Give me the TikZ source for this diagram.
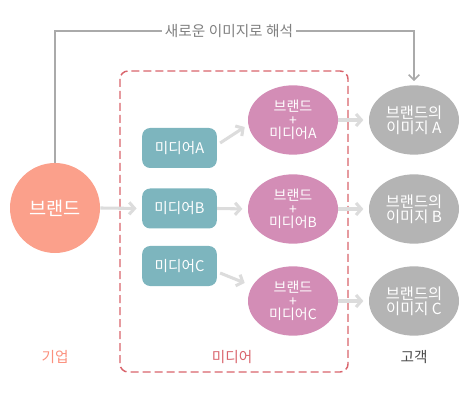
\documentclass[tikz,border=0pt]{standalone}
\usepackage{fontspec}
\setmainfont{Noto Sans CJK KR}
\usepackage{tikz}
\usetikzlibrary{calc, positioning, arrows.meta, shapes.geometric}
\definecolor{brandC}{RGB}{251, 160, 139}
\definecolor{mediaC}{RGB}{125, 181, 190}
\definecolor{mixC}{RGB}{211, 141, 182}
\definecolor{imgC}{RGB}{180, 180, 180}
\definecolor{flowC}{RGB}{220, 220, 220}
\definecolor{frameC}{RGB}{217, 100, 108}
\definecolor{topC}{RGB}{170, 170, 170}

\begin{document}
\begin{tikzpicture}[x=0.75pt, y=-0.75pt, font=\fontsize{10.5}{10}\selectfont,
  flow/.style={draw=flowC, line width=2.3pt, -{Straight Barb[length=4pt, width=9pt]}},
  mediabox/.style={fill=mediaC, text=white, rounded corners=6pt, minimum width=56pt, minimum height=30pt, inner sep=0pt, font=\fontsize{11}{12}\selectfont},
  mixnode/.style={ellipse, fill=mixC, text=white, minimum width=67.5pt, minimum height=52pt, inner sep=0pt, align=center},
  imgnode/.style={ellipse, fill=imgC, text=white, minimum width=67.5pt, minimum height=52pt, inner sep=0pt, align=center, font=\fontsize{11.5}{11}\selectfont},
  grouplabel/.style={font=\fontsize{11}{12}\selectfont}]
  \useasboundingbox (0,0) rectangle (470,409);

  % Media frame
  \draw[frameC, line width=1.1pt, dash pattern=on 6pt off 3pt, rounded corners=6pt] (120,71) rectangle (348,372);

  % Brand
  \node[circle, fill=brandC, text=white, minimum size=67.5pt, inner sep=0pt, font=\fontsize{14}{16}\selectfont] (brand) at (55,208) {브랜드};

  % Media, brand + media, image
  \foreach \m/\my/\ny in {A/148/120, B/208.5/209, C/266/301} {
    \node[mediabox] (media\m) at (179.5,\my) {미디어\m};
    \node[mixnode] (mix\m) at (293,\ny) {브랜드\\+\\미디어\m};
    \node[imgnode] (img\m) at (414,\ny) {브랜드의\\이미지 \m};
    \draw[flow, shorten >=4pt] (mix\m.east) -- (img\m.west);
  }

  \draw[flow, shorten >=4pt] (brand.east) -- (mediaB.west);
  \draw[flow] ($(mediaA.east)+(3,-5)$) -- ($(mixA.west)+(-3,7)$);
  \draw[flow, shorten >=4pt] (mediaB.east) -- (mixB.west);
  \draw[flow] ($(mediaC.east)+(3,7)$) -- ($(mixC.west)+(-3,-18)$);

  % Reinterpretation line
  \coordinate (topL) at (55,31);
  \coordinate (topR) at (414,31);
  \draw[topC, line width=1.1pt, -{Straight Barb[length=4pt, width=8pt]}, shorten >=3pt] (brand.north) -- (topL) -- (topR) -- (imgA.north);
  \node[fill=white, text=gray, inner xsep=2pt, font=\fontsize{11}{12}\selectfont] (reread) at (229,31) {새로운 이미지로 해석};

  % Group labels
  \node[grouplabel, text=brandC!90!red] (lblCompany) at (55,357) {기업};
  \node[grouplabel, text=frameC] (lblMedia) at (232,357) {미디어};
  \node[grouplabel, text=black!70] (lblCustomer) at (414,357) {고객};
\end{tikzpicture}
\end{document}
